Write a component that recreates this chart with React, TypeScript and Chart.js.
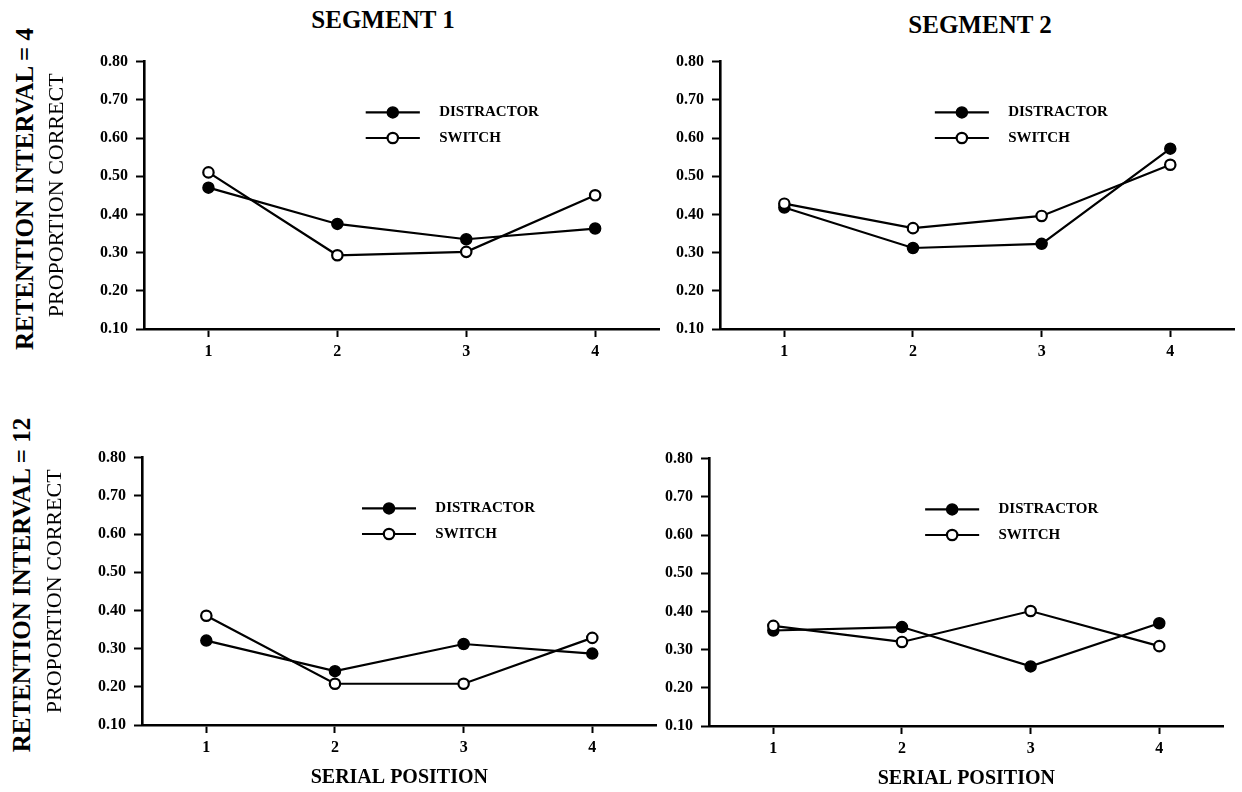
import React, { useEffect, useRef } from 'react';
import { Chart, registerables } from 'chart.js';

Chart.register(...registerables);

// ---------- data ----------
const categories = ['1', '2', '3', '4'];
const yTickValues = [0.1, 0.2, 0.3, 0.4, 0.5, 0.6, 0.7, 0.8];
const seriesNames = ['DISTRACTOR', 'SWITCH'];

const seg1Ri4Distractor = [0.47, 0.375, 0.335, 0.363];
const seg1Ri4Switch = [0.51, 0.293, 0.302, 0.45];
const seg2Ri4Distractor = [0.418, 0.312, 0.323, 0.572];
const seg2Ri4Switch = [0.428, 0.364, 0.396, 0.53];
const seg1Ri12Distractor = [0.321, 0.241, 0.312, 0.287];
const seg1Ri12Switch = [0.386, 0.208, 0.208, 0.328];
const seg2Ri12Distractor = [0.35, 0.359, 0.256, 0.369];
const seg2Ri12Switch = [0.362, 0.32, 0.401, 0.309];

const FONT = "'Liberation Serif', 'Times New Roman', serif";

type PanelCfg = {
  left: number;
  top: number;
  width: number;
  height: number;
  yWidth: number;
  xHeight: number;
  yTitle: string;
  xTitle: string;
  distractor: number[];
  sw: number[];
  legendStart: number;
};

const panels: PanelCfg[] = [
  { left: 44, top: 44, width: 623, height: 325, yWidth: 100, xHeight: 40, yTitle: 'PROPORTION CORRECT', xTitle: '', distractor: seg1Ri4Distractor, sw: seg1Ri4Switch, legendStart: 1.22 },
  { left: 660, top: 44, width: 582, height: 325, yWidth: 60, xHeight: 40, yTitle: '', xTitle: '', distractor: seg2Ri4Distractor, sw: seg2Ri4Switch, legendStart: 1.17 },
  { left: 42, top: 440, width: 622, height: 350, yWidth: 100, xHeight: 65, yTitle: 'PROPORTION CORRECT', xTitle: 'SERIAL POSITION', distractor: seg1Ri12Distractor, sw: seg1Ri12Switch, legendStart: 1.21 },
  { left: 649, top: 441, width: 582, height: 350, yWidth: 60, xHeight: 65, yTitle: '', xTitle: 'SERIAL POSITION', distractor: seg2Ri12Distractor, sw: seg2Ri12Switch, legendStart: 1.18 },
];

const lineLegendPlugin = {
  id: 'lineLegend',
  afterDatasetsDraw(chart: any, _args: any, opts: any) {
    const { ctx } = chart;
    const xs = chart.scales.x;
    const ys = chart.scales.y;
    chart.data.datasets.forEach((ds: any, i: number) => {
      const y = ys.getPixelForValue(opts.rows[i]);
      const x0 = xs.getPixelForValue(opts.start);
      const x1 = xs.getPixelForValue(opts.start + opts.length);
      const xm = (x0 + x1) / 2;
      const xt = xs.getPixelForValue(opts.start + opts.length + opts.gap);
      ctx.save();
      ctx.strokeStyle = '#000';
      ctx.lineWidth = 2.2;
      ctx.beginPath();
      ctx.moveTo(x0, y);
      ctx.lineTo(x1, y);
      ctx.stroke();
      ctx.beginPath();
      ctx.arc(xm, y, ds.pointRadius, 0, Math.PI * 2);
      ctx.fillStyle = ds.pointBackgroundColor;
      ctx.fill();
      ctx.lineWidth = ds.pointBorderWidth;
      ctx.stroke();
      ctx.fillStyle = '#000';
      ctx.font = `bold 15px ${FONT}`;
      ctx.textBaseline = 'middle';
      ctx.textAlign = 'left';
      ctx.fillText(ds.label, xt, y);
      ctx.restore();
    });
  },
};

function Panel({ cfg }: { cfg: PanelCfg }) {
  const ref = useRef<HTMLCanvasElement>(null);
  useEffect(() => {
    const gridOpts = {
      display: true,
      drawOnChartArea: false,
      drawTicks: true,
      tickLength: 8,
      tickWidth: 2,
      tickColor: '#000',
      offset: false,
    };
    const borderOpts = { display: true, color: '#000', width: 2.6 };
    const tickFont = { family: FONT, size: 16, weight: 'bold' as const };
    const chart = new Chart(ref.current as HTMLCanvasElement, {
      type: 'line',
      data: {
        labels: categories,
        datasets: [
          {
            label: seriesNames[0],
            data: cfg.distractor,
            borderColor: '#000',
            borderWidth: 2.2,
            pointRadius: 5.5,
            pointBackgroundColor: '#000',
            pointBorderColor: '#000',
            pointBorderWidth: 1.5,
            tension: 0,
            fill: false,
            order: 2,
          },
          {
            label: seriesNames[1],
            data: cfg.sw,
            borderColor: '#000',
            borderWidth: 2.2,
            pointRadius: 5.2,
            pointBackgroundColor: '#fff',
            pointBorderColor: '#000',
            pointBorderWidth: 2.2,
            tension: 0,
            fill: false,
            order: 1,
          },
        ],
      },
      options: {
        animation: false,
        responsive: true,
        maintainAspectRatio: false,
        layout: { padding: { top: 12, right: 4, left: 0, bottom: 0 } },
        events: [],
        plugins: {
          legend: { display: false },
          tooltip: { enabled: false },
          lineLegend: { rows: [0.667, 0.6], start: cfg.legendStart, length: 0.42, gap: 0.15 },
        } as any,
        scales: {
          x: {
            type: 'category',
            offset: true,
            grid: gridOpts,
            border: borderOpts,
            ticks: { color: '#000', font: tickFont, padding: 5, maxRotation: 0, autoSkip: false },
            title: {
              display: !!cfg.xTitle,
              text: cfg.xTitle,
              color: '#000',
              font: { family: FONT, size: 20, weight: 'bold' },
              padding: 0,
            },
            afterFit: (s: any) => {
              s.height = cfg.xHeight;
            },
          } as any,
          y: {
            type: 'linear',
            min: 0.1,
            max: 0.8,
            afterBuildTicks: (s: any) => {
              s.ticks = yTickValues.map((v) => ({ value: v }));
            },
            grid: gridOpts,
            border: borderOpts,
            ticks: {
              color: '#000',
              font: tickFont,
              padding: 8,
              callback: (v: any) => Number(v).toFixed(2),
            },
            title: {
              display: !!cfg.yTitle,
              text: cfg.yTitle,
              color: '#000',
              font: { family: FONT, size: 22, weight: 'normal' },
              padding: 0,
            },
            afterFit: (s: any) => {
              s.width = cfg.yWidth;
            },
          } as any,
        },
      },
      plugins: [lineLegendPlugin as any],
    });
    return () => chart.destroy();
  }, [cfg]);
  return (
    <div style={{ position: 'absolute', left: cfg.left, top: cfg.top, width: cfg.width, height: cfg.height }}>
      <canvas ref={ref} />
    </div>
  );
}

const textBase: React.CSSProperties = {
  position: 'absolute',
  fontFamily: FONT,
  color: '#000',
  whiteSpace: 'nowrap',
  lineHeight: 1,
};

export default function App() {
  return (
    <div style={{ position: 'absolute', left: 0, top: 0, width: 1242, height: 792, background: '#fff', overflow: 'hidden' }}>
      {panels.map((p, i) => (
        <Panel key={i} cfg={p} />
      ))}
      <div style={{ ...textBase, left: 383, top: 19, transform: 'translate(-50%, -50%)', fontSize: 25, fontWeight: 'bold' }}>
        SEGMENT 1
      </div>
      <div style={{ ...textBase, left: 980, top: 24, transform: 'translate(-50%, -50%)', fontSize: 25, fontWeight: 'bold' }}>
        SEGMENT 2
      </div>
      <div style={{ ...textBase, left: 24, top: 189, transform: 'translate(-50%, -50%) rotate(-90deg)', fontSize: 25, fontWeight: 'bold' }}>
        RETENTION INTERVAL = 4
      </div>
      <div style={{ ...textBase, left: 21, top: 585, transform: 'translate(-50%, -50%) rotate(-90deg)', fontSize: 25, fontWeight: 'bold' }}>
        RETENTION INTERVAL = 12
      </div>
    </div>
  );
}
